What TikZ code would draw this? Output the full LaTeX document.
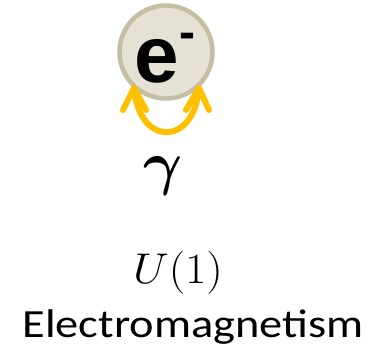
\RequirePackage{fix-cm}
\documentclass[tikz,border=0pt]{standalone}
\usepackage{amsmath}
\usepackage{fontspec}
\usetikzlibrary{calc}
\newfontfamily\calib{Carlito}
\newfontfamily\arialb{Liberation Sans}
\definecolor{pfill}{HTML}{E5E2D5}
\definecolor{pedge}{HTML}{C4BEA3}
\definecolor{gold}{HTML}{FFC000}
\tikzset{
  particle/.style={circle, fill=pfill, draw=pedge, line width=4.5pt, minimum size=93pt, inner sep=0pt},
  bosonarrow/.style={draw=gold, line width=6pt, line cap=round, line join=round},
}
\begin{document}
\begin{tikzpicture}[x=1pt,y=-1pt]
\useasboundingbox (0,0) rectangle (370,353);
\node[particle] (e) at (166,52) {};
\node[inner sep=0pt] (elab) at (165,58) {\arialb\fontsize{80}{80}\selectfont\bfseries e\raisebox{0.42em}{\fontsize{48}{48}\selectfont -}};
\coordinate (tl) at (134,88);
\coordinate (tr) at (199,88);
\draw[bosonarrow] (tl) .. controls (139,147) and (194,147) .. (tr);
\draw[bosonarrow] ($(tl)+(-11,22)$) -- (tl) -- ($(tl)+(12,22)$);
\draw[bosonarrow] ($(tr)+(-13,22)$) -- (tr) -- ($(tr)+(10,22)$);
\node[inner sep=0pt] (gam) at (163,176) {\fontsize{60}{60}\selectfont$\boldsymbol{\gamma}$};
\node[inner sep=0pt, xscale=1.08] (u1) at (178,273) {\fontsize{43}{43}\selectfont$U(1)$};
\node[inner sep=0pt, anchor=base, xscale=1.16] (em) at (193,337) {\calib\fontsize{40}{40}\selectfont Electromagnetism};
\end{tikzpicture}
\end{document}
